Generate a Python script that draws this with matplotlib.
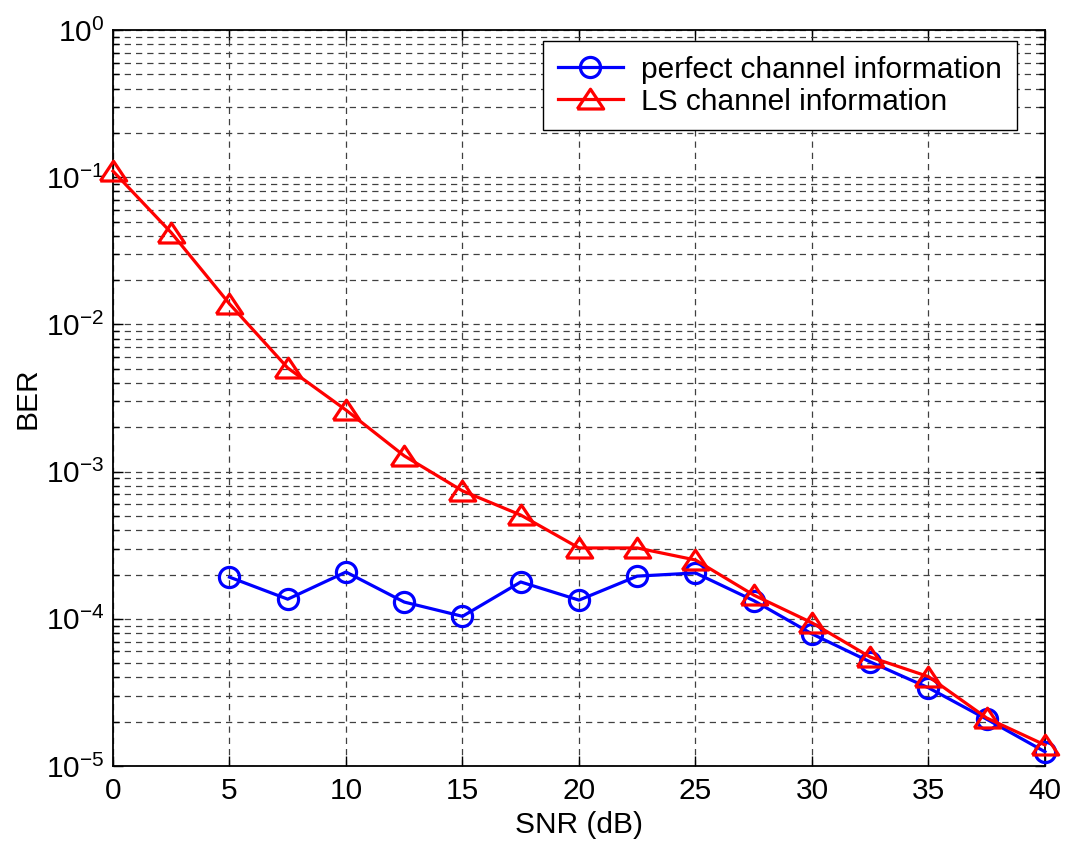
import numpy as np
import matplotlib.pyplot as plt
from matplotlib.ticker import LogLocator, NullFormatter

plt.rcParams['font.family'] = ['Liberation Sans', 'DejaVu Sans']
plt.rcParams['mathtext.fontset'] = 'custom'
plt.rcParams['mathtext.rm'] = 'Liberation Sans'

# SNR values (dB)
snr_perfect = [5, 7.5, 10, 12.5, 15, 17.5, 20, 22.5, 25, 27.5, 30, 32.5, 35, 37.5, 40]
ber_perfect = [1.92e-4, 1.36e-4, 2.08e-4, 1.30e-4, 1.04e-4, 1.78e-4, 1.34e-4, 1.95e-4,
               2.05e-4, 1.33e-4, 7.9e-5, 5.1e-5, 3.4e-5, 2.08e-5, 1.25e-5]

snr_ls = [0, 2.5, 5, 7.5, 10, 12.5, 15, 17.5, 20, 22.5, 25, 27.5, 30, 32.5, 35, 37.5, 40]
ber_ls = [0.11, 0.042, 0.0138, 5.06e-3, 2.62e-3, 1.28e-3, 7.4e-4, 5.07e-4, 3.03e-4, 3.03e-4,
          2.51e-4, 1.45e-4, 9.4e-5, 5.5e-5, 4.05e-5, 2.12e-5, 1.39e-5]

# flat MATLAB-style triangle
tri = [(-1, -0.72), (1, -0.72), (0, 0.78), (-1, -0.72)]

fig = plt.figure(figsize=(10.71, 8.43), dpi=100)
ax = fig.add_axes([0.1055, 0.0913, 0.8702, 0.8731])

ax.semilogy(snr_perfect, ber_perfect, '-', marker='o', color='#0000ff', lw=2.3, ms=14.5,
            mfc='none', mew=2.3, label='perfect channel information', clip_on=False, zorder=3)
ax.semilogy(snr_ls, ber_ls, '-', marker=tri, color='#ff0000', lw=2.3, ms=19,
            mfc='none', mew=2.3, label='LS channel information', clip_on=False, zorder=4)

ax.set_xlim(0, 40)
ax.set_ylim(1e-5, 1)
ax.set_xticks(np.arange(0, 41, 5))
ax.yaxis.set_major_locator(LogLocator(base=10, numticks=10))
ax.yaxis.set_minor_locator(LogLocator(base=10, subs=np.arange(2, 10), numticks=20))
ax.yaxis.set_minor_formatter(NullFormatter())

ax.grid(True, which='major', axis='both', ls=(0, (5, 4)), color='#404040', lw=0.9)
ax.grid(True, which='minor', axis='y', ls=(0, (5, 4)), color='#404040', lw=0.9)

ax.tick_params(which='both', direction='in', top=True, right=True, labelsize=21.5,
               width=1)
ax.tick_params(axis='x', pad=8)
ax.tick_params(axis='y', pad=6)
ax.tick_params(which='major', length=7)
ax.tick_params(which='minor', length=4)
for s in ax.spines.values():
    s.set_linewidth(1.3)

ax.set_xlabel('SNR (dB)', fontsize=21.5, labelpad=4)
ax.set_ylabel('BER', fontsize=21.5, labelpad=3)

leg = ax.legend(loc='upper right', bbox_to_anchor=(1017 / 1071, 1 - 41 / 843),
                bbox_transform=fig.transFigure, fontsize=21.5, fancybox=False,
                framealpha=1, edgecolor='black', borderaxespad=0, handlelength=2.2,
                handletextpad=0.6, labelspacing=0.12, borderpad=0.5)
leg.get_frame().set_linewidth(1)

fig.savefig('out.png', dpi=100)
